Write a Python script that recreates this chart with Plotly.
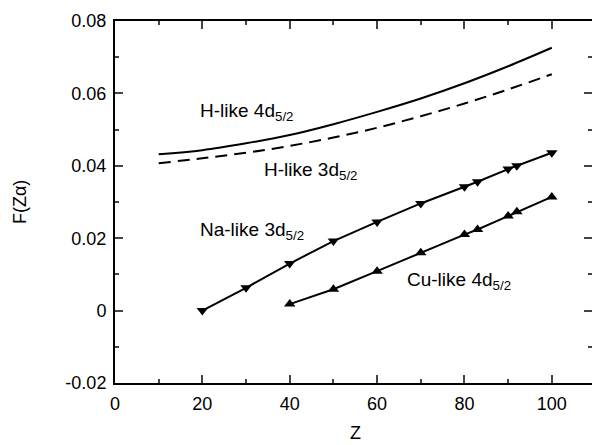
import plotly.graph_objects as go

# H-like curves
z_h = [10, 20, 30, 40, 50, 60, 70, 80, 90, 100]
h4d = [0.0432, 0.0443, 0.0462, 0.0485, 0.0515, 0.0549, 0.0586, 0.0628, 0.0675, 0.0726]
h3d = [0.0407, 0.0421, 0.0436, 0.0455, 0.0478, 0.0505, 0.0537, 0.0572, 0.0611, 0.0653]

# Na-like 3d5/2
z_na = [20, 30, 40, 50, 60, 70, 80, 83, 90, 92, 100]
na3d = [0.0000, 0.0063, 0.0130, 0.0192, 0.0245, 0.0296, 0.0342, 0.0356, 0.0391, 0.0400, 0.0436]

# Cu-like 4d5/2
z_cu = [40, 50, 60, 70, 80, 83, 90, 92, 100]
cu4d = [0.0018, 0.0059, 0.0109, 0.0160, 0.0210, 0.0224, 0.0261, 0.0273, 0.0314]

x_ticks = [0, 20, 40, 60, 80, 100]
y_ticks = [0.08, 0.06, 0.04, 0.02, 0, -0.02]
y_ticktext = ["0.08", "0.06", "0.04", "0.02", "0", "-0.02"]

FONT = "Liberation Sans, Arial, sans-serif"

fig = go.Figure()
fig.add_trace(go.Scatter(x=z_h, y=h4d, mode="lines", line=dict(color="black", width=2, shape="spline"), showlegend=False))
fig.add_trace(go.Scatter(x=z_h, y=h3d, mode="lines", line=dict(color="black", width=2, dash="12px,7px", shape="spline"), showlegend=False))
fig.add_trace(go.Scatter(x=z_na, y=na3d, mode="lines+markers", line=dict(color="black", width=2),
                         marker=dict(symbol="triangle-down", size=10, color="black"), showlegend=False))
fig.add_trace(go.Scatter(x=z_cu, y=cu4d, mode="lines+markers", line=dict(color="black", width=2),
                         marker=dict(symbol="triangle-up", size=10, color="black"), showlegend=False))
# invisible trace to activate right y axis
fig.add_trace(go.Scatter(x=[None], y=[None], yaxis="y2", showlegend=False, hoverinfo="skip"))

labels = [
    (19.0, 0.0548, "H-like 4d<sub>5/2</sub>"),
    (33.6, 0.0385, "H-like 3d<sub>5/2</sub>"),
    (19.0, 0.0220, "Na-like 3d<sub>5/2</sub>"),
    (66.4, 0.0082, "Cu-like 4d<sub>5/2</sub>"),
]
for x, y, t in labels:
    fig.add_annotation(x=x, y=y, text=t, showarrow=False, xanchor="left", yanchor="middle",
                       font=dict(family=FONT, size=19, color="black"))

fig.add_annotation(xref="paper", yref="paper", x=0.505, y=-0.171, text="Z", showarrow=False,
                   xanchor="center", yanchor="bottom", font=dict(family=FONT, size=18, color="black"))
fig.add_annotation(xref="paper", yref="paper", x=-0.199, y=0.5, text="F(Zα)", showarrow=False,
                   textangle=-90, xanchor="center", yanchor="middle", font=dict(family=FONT, size=18, color="black"))

fig.update_layout(
    width=592, height=445,
    margin=dict(l=115, r=0, t=21, b=62),
    paper_bgcolor="white", plot_bgcolor="white",
    font=dict(family=FONT, size=18, color="black"),
    xaxis=dict(range=[0, 109.2], tickvals=x_ticks, ticks="inside", ticklen=8, tickwidth=1.5,
               showline=True, linewidth=2, linecolor="black", mirror="ticks", showgrid=False, zeroline=False,
               minor=dict(dtick=10, tick0=0, ticks="inside", ticklen=4, tickwidth=1.5),
               ticklabelstandoff=3),
    yaxis=dict(range=[-0.02, 0.08], tickvals=y_ticks, ticktext=y_ticktext, ticks="inside", ticklen=8, tickwidth=1.5,
               showline=True, linewidth=2, linecolor="black", mirror=False, showgrid=False, zeroline=False,
               minor=dict(dtick=0.01, tick0=0, ticks="inside", ticklen=4, tickwidth=1.5),
               ticklabelstandoff=3),
    yaxis2=dict(range=[-0.02, 0.08], overlaying="y", side="right", tickvals=y_ticks, ticks="inside", ticklen=8,
                tickwidth=1.5, showticklabels=False, showline=False, showgrid=False, zeroline=False,
                minor=dict(dtick=0.01, tick0=0, ticks="inside", ticklen=4, tickwidth=1.5)),
)

fig.write_html("out.html", config={"displayModeBar": False},
               post_script="document.body.style.margin='0';document.body.style.overflow='hidden';")
